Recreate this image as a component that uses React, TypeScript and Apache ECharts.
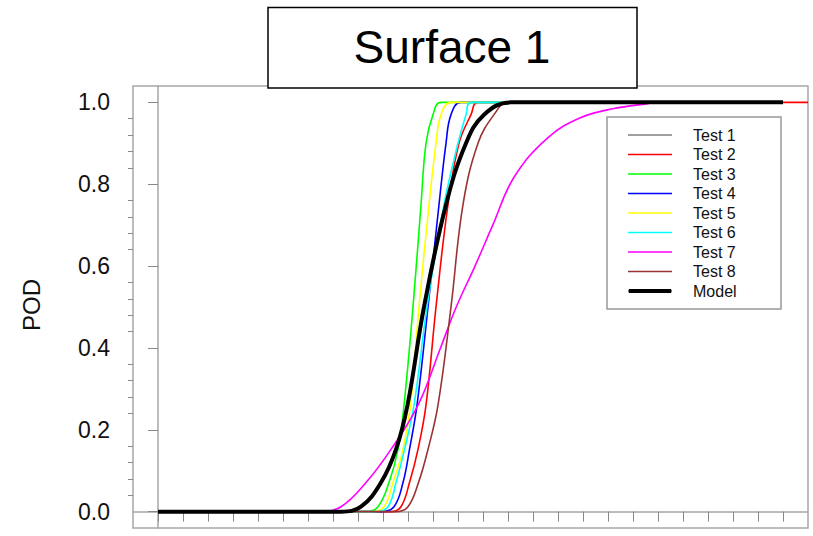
import React, { useEffect, useRef } from "react";
import * as echarts from "echarts";

const seriesNames = ["Test 1", "Test 2", "Test 3", "Test 4", "Test 5", "Test 6", "Test 7", "Test 8", "Model"];
const seriesColors = ["#808080", "#ff0000", "#00ff00", "#0000ff", "#ffff00", "#00ffff", "#ff00ff", "#993333", "#000000"];
const seriesWidths = [1.6, 1.6, 1.6, 1.6, 1.6, 1.6, 1.6, 1.6, 4];

const test1 = [[0, 0], [7.32, 0], [8.12, 0.012], [8.92, 0.071], [9.52, 0.152], [9.98, 0.26], [10.64, 0.5], [11.52, 0.75], [12.32, 0.9], [13.04, 0.97], [14.12, 1], [25, 1]];
const test2 = [[0, 0], [9.32, 0], [9.72, 0.012], [10.06, 0.071], [10.4, 0.152], [10.72, 0.26], [11.12, 0.5], [11.6, 0.75], [12.04, 0.9], [12.52, 0.97], [12.8, 1], [26, 1]];
const test3 = [[0, 0], [8.32, 0], [8.8, 0.012], [9.24, 0.071], [9.6, 0.152], [9.84, 0.26], [10.2, 0.5], [10.52, 0.75], [10.72, 0.9], [11.0, 0.97], [11.32, 1], [25, 1]];
const test4 = [[0, 0], [8.92, 0], [9.44, 0.012], [9.8, 0.071], [10.06, 0.152], [10.36, 0.26], [10.8, 0.5], [11.24, 0.75], [11.52, 0.9], [11.72, 0.97], [12.12, 1], [25, 1]];
const test5 = [[0, 0], [8.52, 0], [9.04, 0.012], [9.4, 0.071], [9.8, 0.152], [10.1, 0.26], [10.44, 0.5], [10.84, 0.75], [11.12, 0.9], [11.32, 0.97], [11.72, 1], [25, 1]];
const test6 = [[0, 0], [8.72, 0], [9.2, 0.012], [9.52, 0.071], [9.86, 0.152], [10.24, 0.26], [10.76, 0.5], [11.44, 0.75], [12.0, 0.9], [12.32, 0.97], [12.52, 1], [25, 1]];
const test7 = [[0, 0], [6.44, 0], [7.32, 0.012], [8.32, 0.071], [9.32, 0.152], [10.4, 0.26], [11.3, 0.4], [11.93, 0.5], [12.68, 0.6], [13.39, 0.7], [14.24, 0.817], [15.6, 0.914], [16.92, 0.963], [18.24, 0.985], [19.6, 0.997], [20.0, 1], [25, 1]];
const test8 = [[0, 0], [9.52, 0], [10.0, 0.012], [10.42, 0.071], [10.8, 0.152], [11.2, 0.26], [11.72, 0.5], [12.2, 0.75], [12.8, 0.9], [13.44, 0.97], [14.0, 1], [25, 1]];
const model = [[0, 0], [7.32, 0], [8.12, 0.012], [8.92, 0.071], [9.52, 0.152], [9.98, 0.26], [10.64, 0.5], [11.52, 0.75], [12.32, 0.9], [13.04, 0.97], [14.12, 1], [25, 1]];
const seriesData = [test1, test2, test3, test4, test5, test6, test7, test8, model];

const yTickValues = [0, 0.2, 0.4, 0.6, 0.8, 1.0];
const yMinorTickValues = [0.04, 0.08, 0.12, 0.16, 0.24, 0.28, 0.32, 0.36, 0.44, 0.48, 0.52, 0.56, 0.64, 0.68, 0.72, 0.76, 0.84, 0.88, 0.92, 0.96];
const xTickValues = [0, 1, 2, 3, 4, 5, 6, 7, 8, 9, 10, 11, 12, 13, 14, 15, 16, 17, 18, 19, 20, 21, 22, 23, 24, 25];

const titleText = "Surface 1";
const yAxisTitle = "POD";

const FONT = "'Liberation Sans', Arial, sans-serif";
const FRAME = "#a6a6a6";

// legend line icons (tiny corner marks keep the 44x14 bounding box)
const thinIcon = "path://M0,0 L0.01,0 L0,0.01 Z M0,6.2 L44,6.2 L44,7.8 L0,7.8 Z M44,14 L43.99,14 L44,13.99 Z";
const thickIcon = "path://M0,0 L0.01,0 L0,0.01 Z M1,5 L43,5 Q44.5,7 43,9 L1,9 Q-0.5,7 1,5 Z M44,14 L43.99,14 L44,13.99 Z";

export default function App() {
  const ref = useRef<HTMLDivElement>(null);
  useEffect(() => {
    if (!ref.current) return;
    const chart = echarts.init(ref.current, null, { renderer: "svg" });
    const option: any = {
      animation: false,
      backgroundColor: "#ffffff",
      grid: {
        left: 133, top: 86, right: 5, bottom: 8,
        show: true, borderColor: FRAME, borderWidth: 1.5, backgroundColor: "#ffffff",
        containLabel: false, outerBoundsMode: "none",
      },
      xAxis: {
        type: "value", min: -1, max: 26,
        axisLine: { show: true, lineStyle: { color: FRAME, width: 1.5 } },
        axisTick: { show: true, customValues: xTickValues, length: 10, inside: false, lineStyle: { color: "#888", width: 1 } },
        axisLabel: { show: false },
        splitLine: { show: false },
      },
      yAxis: [
        {
          type: "value", min: -0.04, max: 1.04, position: "left",
          axisLine: { show: true, lineStyle: { color: FRAME, width: 1.5 } },
          axisTick: { show: true, customValues: yTickValues, length: 10, lineStyle: { color: "#888", width: 1 } },
          axisLabel: {
            show: true, customValues: yTickValues, margin: 23, fontSize: 23, fontFamily: FONT, color: "#111",
            formatter: (v: number) => v.toFixed(1),
          },
          splitLine: { show: false },
        },
        {
          type: "value", min: -0.04, max: 1.04, position: "left", offset: 0,
          axisLine: { show: false },
          axisTick: { show: true, customValues: yMinorTickValues, length: 5, lineStyle: { color: "#888", width: 1 } },
          axisLabel: { show: false },
          splitLine: { show: false },
        },
      ],
      legend: {
        orient: "vertical", left: 628, top: 127, padding: 0,
        itemWidth: 44, itemHeight: 14, itemGap: 3.5, z: 10,
        data: seriesNames.map((name, i) => ({ name, icon: i === 8 ? thickIcon : thinIcon })),
        textStyle: { fontSize: 16, fontFamily: FONT, color: "#111", lineHeight: 14, height: 14, padding: [0, 0, 0, 16] },
      },
      graphic: [
        {
          type: "rect", z: 3, shape: { x: 607, y: 117, width: 174, height: 192 },
          style: { fill: "#ffffff", stroke: "#999999", lineWidth: 1.5 },
        },
        {
          type: "rect", z: 100, shape: { x: 268, y: 7.5, width: 369, height: 80.5 },
          style: { fill: "#ffffff", stroke: "#000000", lineWidth: 1.5 },
        },
        {
          type: "text", z: 101, x: 452, y: 47,
          style: { text: titleText, fontSize: 46, fontFamily: FONT, fill: "#000", textAlign: "center", textVerticalAlign: "middle", align: "center", verticalAlign: "middle" },
        },
        {
          type: "text", z: 101, x: 31, y: 305, rotation: Math.PI / 2,
          style: { text: yAxisTitle, fontSize: 24, fontFamily: FONT, fill: "#111", textAlign: "center", textVerticalAlign: "middle", align: "center", verticalAlign: "middle" },
        },
      ],
      series: seriesNames.map((name, i) => ({
        type: "line",
        name,
        data: seriesData[i],
        yAxisIndex: 0,
        symbol: "none",
        showSymbol: false,
        smooth: 0.4,
        lineStyle: { color: seriesColors[i], width: seriesWidths[i] },
        itemStyle: { color: seriesColors[i] },
        z: 2 + i * 0.01,
      })),
    };
    chart.setOption(option);
    return () => chart.dispose();
  }, []);
  return (
    <div style={{ position: "absolute", left: 0, top: 0, width: 813, height: 536 }}>
      <div ref={ref} style={{ width: 813, height: 536 }} />
    </div>
  );
}
